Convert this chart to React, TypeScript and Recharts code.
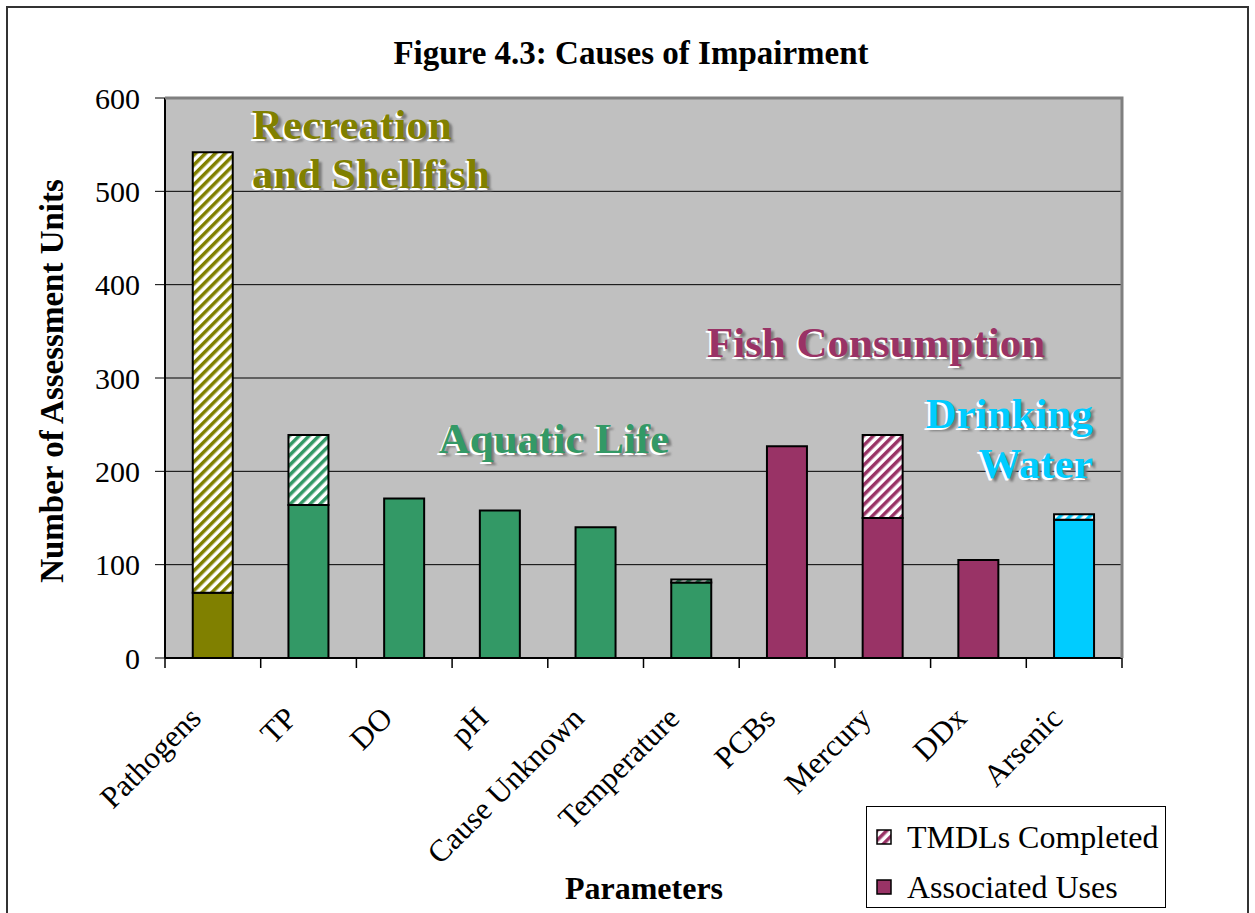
import { BarChart, Bar, XAxis, YAxis, CartesianGrid, Cell } from 'recharts';

const categories = ['Pathogens', 'TP', 'DO', 'pH', 'Cause Unknown', 'Temperature', 'PCBs', 'Mercury', 'DDx', 'Arsenic'];
const associatedUses = [70, 164, 171, 158, 140, 81, 227, 150, 105, 148];
const tmdlsCompleted = [472, 75, 0, 0, 0, 3, 0, 89, 0, 6];
const useGroups = ['recreation', 'aquatic', 'aquatic', 'aquatic', 'aquatic', 'aquatic', 'fish', 'fish', 'fish', 'drinking'];
const yTicks = [0, 100, 200, 300, 400, 500, 600];

const groupColors: Record<string, string> = {
  recreation: '#808000',
  aquatic: '#339966',
  fish: '#993366',
  drinking: '#00CCFF',
};

const W = 1255;
const H = 913;
const FONT = '"Liberation Serif", "Times New Roman", serif';

const hatchId = (c: string) => `hatch-${c.replace('#', '')}`;

const XTick = (props: any) => {
  const { x, y, payload, index } = props;
  const half = payload?.offset || 47.85;
  const tx = x - 10;
  const ty = y + 62;
  return (
    <g>
      <line x1={x - half} x2={x - half} y1={y} y2={y + 10} stroke="#000" strokeWidth={1.5} />
      {index === categories.length - 1 && (
        <line x1={x + half} x2={x + half} y1={y} y2={y + 10} stroke="#000" strokeWidth={1.5} />
      )}
      <text
        x={tx}
        y={ty}
        transform={`rotate(-45 ${tx} ${ty})`}
        textAnchor="end"
        fontSize={31}
        fontFamily={FONT}
        fill="#000"
      >
        {payload.value}
      </text>
    </g>
  );
};

// embossed label: grey shadow, white highlight, coloured face
const Emboss = ({ x, y, color, anchor = 'start', children }: any) => (
  <g fontFamily={FONT} fontWeight="bold" fontSize={43} textAnchor={anchor}>
    <text x={x + 3} y={y + 3} fill="#7a7a7a" filter="url(#soft)">{children}</text>
    <text x={x - 2} y={y + 2} fill="#fff">{children}</text>
    <text x={x} y={y} fill={color}>{children}</text>
  </g>
);

export default function App() {
  const data = categories.map((name, i) => ({
    name,
    assoc: associatedUses[i],
    tmdl: tmdlsCompleted[i],
    group: useGroups[i],
  }));

  return (
    <div style={{ position: 'fixed', left: 0, top: 0, width: W, height: H, overflow: 'hidden', background: '#fff', fontFamily: FONT }}>
      <svg width={0} height={0} style={{ position: 'absolute' }}>
        <defs>
          {Object.values(groupColors).map(c => (
            <pattern key={c} id={hatchId(c)} patternUnits="userSpaceOnUse" width={7} height={7} patternTransform="rotate(45)">
              <rect width={7} height={7} fill="#fff" />
              <rect width={3.5} height={7} fill={c} />
            </pattern>
          ))}
          <filter id="soft" x="-10%" y="-10%" width="120%" height="120%">
            <feGaussianBlur stdDeviation="1.2" />
          </filter>
        </defs>
      </svg>

      <div style={{ position: 'absolute', left: 6, top: 6, width: 1243, height: 960, border: '2px solid #333', boxSizing: 'border-box' }} />

      <div style={{ position: 'absolute', left: 0, top: 0 }}>
        <BarChart width={W} height={H} data={data} margin={{ top: 98, right: 133, bottom: 0, left: 0 }} barCategoryGap="29%">
          <CartesianGrid vertical={false} stroke="#000" strokeWidth={1} fill="#C0C0C0" fillOpacity={1} />
          <XAxis
            dataKey="name"
            interval={0}
            height={255}
            tickSize={0}
            tickMargin={0}
            tickLine={false}
            axisLine={{ stroke: '#000', strokeWidth: 2 }}
            tick={<XTick />}
          />
          <YAxis
            width={165}
            domain={[0, 600]}
            ticks={yTicks}
            tickSize={10}
            tickMargin={15}
            axisLine={{ stroke: '#000', strokeWidth: 2 }}
            tickLine={{ stroke: '#000' }}
            tick={{ fontSize: 30, fill: '#000', fontFamily: FONT }}
          />
          <Bar dataKey="assoc" name="Associated Uses" stackId="a" stroke="#000" strokeWidth={2} isAnimationActive={false}>
            {data.map((d, i) => (
              <Cell key={i} fill={groupColors[d.group]} />
            ))}
          </Bar>
          <Bar dataKey="tmdl" name="TMDLs Completed" stackId="a" stroke="#000" strokeWidth={2} isAnimationActive={false}>
            {data.map((d, i) => (
              <Cell key={i} fill={`url(#${hatchId(groupColors[d.group])})`} />
            ))}
          </Bar>
        </BarChart>
      </div>

      <svg width={W} height={H} style={{ position: 'absolute', left: 0, top: 0, pointerEvents: 'none' }}>
        <path d="M165 98 H1122 V658" fill="none" stroke="#808080" strokeWidth={3} />
        <text x={631} y={64} textAnchor="middle" fontFamily={FONT} fontWeight="bold" fontSize={33} fill="#000">
          Figure 4.3: Causes of Impairment
        </text>
        <text x={63} y={381} transform="rotate(-90 63 381)" textAnchor="middle" fontFamily={FONT} fontWeight="bold" fontSize={33} fill="#000">
          Number of Assessment Units
        </text>
        <text x={644} y={899} textAnchor="middle" fontFamily={FONT} fontWeight="bold" fontSize={32} fill="#000">
          Parameters
        </text>
        <Emboss x={252} y={139} color={groupColors.recreation}>Recreation</Emboss>
        <Emboss x={252} y={188} color={groupColors.recreation}>and Shellfish</Emboss>
        <Emboss x={554} y={453} color={groupColors.aquatic} anchor="middle">Aquatic Life</Emboss>
        <Emboss x={876} y={357} color={groupColors.fish} anchor="middle">Fish Consumption</Emboss>
        <Emboss x={1093} y={428} color={groupColors.drinking} anchor="end">Drinking</Emboss>
        <Emboss x={1093} y={478} color={groupColors.drinking} anchor="end">Water</Emboss>
      </svg>

      <div style={{ position: 'absolute', left: 866, top: 806, width: 300, height: 102, border: '1px solid #000', boxSizing: 'border-box', background: '#fff' }}>
        {[
          { label: 'TMDLs Completed', fill: `url(#${hatchId(groupColors.fish)})` },
          { label: 'Associated Uses', fill: groupColors.fish },
        ].map((item, i) => (
          <div key={item.label} style={{ position: 'absolute', left: 9, top: 12 + i * 50, height: 36, display: 'flex', alignItems: 'center', whiteSpace: 'nowrap' }}>
            <svg width={16} height={16} style={{ marginRight: 15 }}>
              <rect x={1} y={1} width={14} height={14} fill={item.fill} stroke="#000" strokeWidth={1.5} />
            </svg>
            <span style={{ fontSize: 32, color: '#000', lineHeight: '36px' }}>{item.label}</span>
          </div>
        ))}
      </div>
    </div>
  );
}
